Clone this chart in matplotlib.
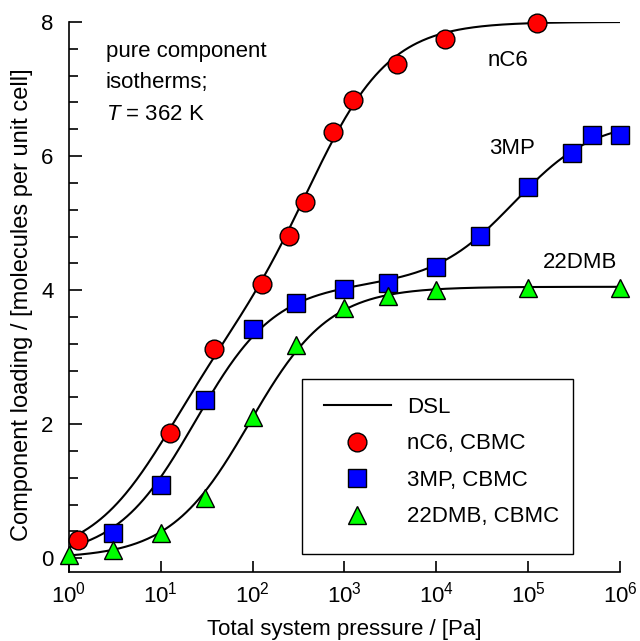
import numpy as np
import matplotlib
matplotlib.use('Agg')
import matplotlib.pyplot as plt
from matplotlib.lines import Line2D
from matplotlib.patches import Rectangle
from matplotlib.ticker import MultipleLocator, NullLocator, LogLocator

plt.rcParams['font.family'] = 'Liberation Sans'
plt.rcParams['mathtext.fontset'] = 'custom'
plt.rcParams['mathtext.rm'] = 'Liberation Sans'
plt.rcParams['mathtext.it'] = 'Liberation Sans:italic'

# CBMC data, pressure in Pa, loading in molecules per unit cell
nC6_p = [1.25, 12.5, 37.5, 125, 250, 375, 750, 1250, 3750, 12500, 125000]
nC6_q = [0.28, 1.87, 3.12, 4.09, 4.81, 5.31, 6.36, 6.83, 7.37, 7.74, 7.98]

mp3_p = [3, 10, 30, 100, 300, 1000, 3000, 1e4, 3e4, 1e5, 3e5, 5e5, 1e6]
mp3_q = [0.38, 1.09, 2.36, 3.42, 3.81, 4.01, 4.10, 4.34, 4.81, 5.54, 6.05, 6.32, 6.32]

dmb_p = [1, 3, 10, 30, 100, 300, 1000, 3000, 1e4, 1e5, 1e6]
dmb_q = [0.05, 0.13, 0.37, 0.90, 2.11, 3.18, 3.73, 3.91, 4.00, 4.03, 4.03]

# dual-site Langmuir parameters: qA_sat, bA, qB_sat, bB
nC6_dsl = [4.58, 0.002239, 3.421, 0.08913]
mp3_dsl = [2.454, 1.413e-05, 4.087, 0.04217]
dmb_dsl = [2.794, 0.01059, 1.256, 0.01122]

fs = 16


def dsl(p, qa, ba, qb, bb):
    return qa * ba * p / (1 + ba * p) + qb * bb * p / (1 + bb * p)


fig = plt.figure(figsize=(6.4, 6.41), dpi=100)
ax = fig.add_axes([0.1078, 0.1081, 0.8609, 0.8576])

pp = np.logspace(0, 6, 400)
for par in [nC6_dsl, mp3_dsl, dmb_dsl]:
    ax.plot(pp, dsl(pp, *par), color='black', lw=1.5, zorder=2)

mk = dict(markeredgecolor='black', markeredgewidth=1.0, linestyle='none', zorder=3)
ax.plot(nC6_p, nC6_q, marker='o', markersize=13.5, markerfacecolor='#ff0000', clip_on=False, **mk)
ax.plot(mp3_p, mp3_q, marker='s', markersize=12.5, markerfacecolor='#0000ff', clip_on=False, **mk)
ax.plot(dmb_p, dmb_q, marker='^', markersize=13.5, markerfacecolor='#00ff00', clip_on=False, **mk)

ax.set_xscale('log')
ax.set_xlim(1, 1e6)
ax.set_ylim(-0.2, 8)
ax.xaxis.set_major_locator(LogLocator(base=10, numticks=10))
ax.xaxis.set_minor_locator(NullLocator())
ax.yaxis.set_major_locator(MultipleLocator(2))
ax.yaxis.set_minor_locator(MultipleLocator(0.4))
ax.spines['top'].set_visible(False)
ax.spines['right'].set_visible(False)
for s in ['left', 'bottom']:
    ax.spines[s].set_linewidth(1.2)
ax.tick_params(axis='x', which='major', direction='in', length=8, width=1.2, pad=7, labelsize=fs)
ax.tick_params(axis='y', which='major', direction='in', length=9, width=1.2, pad=11, labelsize=fs)
ax.tick_params(axis='y', which='minor', direction='in', length=6.5, width=1.2)

ax.set_xlabel('Total system pressure / [Pa]', fontsize=fs)
ax.set_ylabel('Component loading / [molecules per unit cell]', fontsize=17)
ax.xaxis.set_label_coords(0.5, -0.1055)
ax.xaxis.label.set_verticalalignment('center')
ax.yaxis.set_label_coords(-0.085, 0.486)
ax.yaxis.label.set_verticalalignment('center')

ax.text(0.067, 0.946, 'pure component', transform=ax.transAxes, fontsize=fs, va='center', ha='left')
ax.text(0.067, 0.890, 'isotherms;', transform=ax.transAxes, fontsize=fs, va='center', ha='left')
ax.text(0.067, 0.832, '$T$ = 362 K', transform=ax.transAxes, fontsize=fs, va='center', ha='left')

ax.text(60500, 7.43, 'nC6', fontsize=fs, ha='center', va='center')
ax.text(67000, 6.12, '3MP', fontsize=fs, ha='center', va='center')
ax.text(368000, 4.41, '22DMB', fontsize=fs, ha='center', va='center')

handles = [
    Line2D([], [], color='black', lw=1.5),
    Line2D([], [], marker='o', markersize=13.5, markerfacecolor='#ff0000', **mk),
    Line2D([], [], marker='s', markersize=12.5, markerfacecolor='#0000ff', **mk),
    Line2D([], [], marker='^', markersize=13.5, markerfacecolor='#00ff00', **mk),
]
labels = ['DSL', 'nC6, CBMC', '3MP, CBMC', '22DMB, CBMC']
ax.legend(handles, labels, loc='upper left', bbox_to_anchor=(0.4628, 0.3183), frameon=False,
          fontsize=fs, borderpad=0, borderaxespad=0, handlelength=3.0, handletextpad=0.72,
          labelspacing=0.7)
ax.add_patch(Rectangle((0.423, 0.0327), 0.492, 0.318, transform=ax.transAxes, fill=False,
                       edgecolor='black', lw=1.0, zorder=4))

fig.savefig('out.png', dpi=100)
